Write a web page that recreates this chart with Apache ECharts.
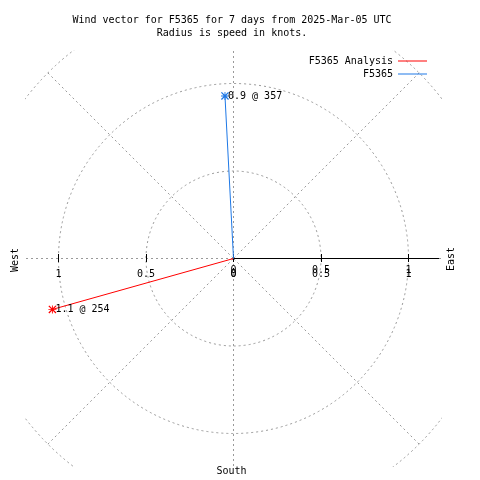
<!DOCTYPE html>
<html><head><meta charset="utf-8">
<script src="https://cdn.jsdelivr.net/npm/echarts@6/dist/echarts.min.js"></script>
<style>html,body{margin:0;padding:0;background:#fff}#c{width:480px;height:480px}</style>
</head><body><div id="c"></div>
<script>
// ---- data ----
const titleLines = ['Wind vector for F5365 for 7 days from 2025-Mar-05 UTC', 'Radius is speed in knots.'];
const seriesNames = ['F5365 Analysis', 'F5365'];
const speeds = [1.075, 0.93];          // knots (radius)
const directions = [254.3, 357.0];     // degrees clockwise from north
const radiusTicks = [0, 0.5, 1];
const compassLabels = ['West', 'East', 'South'];
const colors = ['#ff0000', '#1e78e6'];

const FONT = 'DejaVu Sans Mono';
const GRID_COLOR = '#999999';
const star = 'path://M4,0h1v9h-1zM0,4h9v1h-9zM0,1L1,0L9,8L8,9zM8,0L9,1L1,9L0,8z';

const chart = echarts.init(document.getElementById('c'), null, {renderer: 'canvas'});

const splitStyle = {show: true, lineStyle: {color: GRID_COLOR, width: 1, type: [2, 3]}};
const labelBase = {fontFamily: FONT, fontSize: 10, color: '#000'};

function eastAxis(inside, margin) {
  return {
    gridIndex: 0, type: 'value', min: 0, max: 205 / 175, position: 'bottom', z: 20,
    axisLine: {show: true, onZero: false, lineStyle: {color: '#000', width: 1}},
    axisTick: {show: true, inside: inside, length: 4, customValues: radiusTicks, lineStyle: {color: '#000'}},
    axisLabel: Object.assign({show: true, margin: margin, customValues: radiusTicks}, labelBase),
    splitLine: {show: false}
  };
}
function westAxis(inside, showLabel) {
  return {
    gridIndex: 1, type: 'value', min: 0, max: 208 / 175, inverse: true, position: 'bottom', z: 20,
    axisLine: {show: false, onZero: false},
    axisTick: {show: true, inside: inside, length: 4, customValues: radiusTicks, lineStyle: {color: '#000'}},
    axisLabel: Object.assign({show: showLabel, margin: 11, customValues: radiusTicks}, labelBase),
    splitLine: {show: false}
  };
}

const textEl = (text, x, y, rot) => ({
  type: 'text', x: x, y: y, rotation: rot || 0, z: 40, silent: true,
  style: {text: text, align: 'center', verticalAlign: 'middle', fontFamily: FONT, fontSize: 10, fill: '#000'}
});
const maskEl = (x, y, w, h) => ({
  type: 'rect', shape: {x: x, y: y, width: w, height: h}, style: {fill: '#fff'}, z: 10, silent: true
});

const option = {
  animation: false,
  backgroundColor: '#fff',
  polar: {center: [233.5, 258.5], radius: 262.5},
  angleAxis: {
    type: 'value', min: 0, max: 360, interval: 45, startAngle: 90, clockwise: true,
    axisLine: {show: false}, axisTick: {show: false}, axisLabel: {show: false},
    splitLine: splitStyle
  },
  radiusAxis: {
    type: 'value', min: 0, max: 1.5, interval: 0.5,
    axisLine: {show: false}, axisTick: {show: false}, axisLabel: {show: false},
    splitLine: splitStyle
  },
  grid: [
    {left: 233.5, width: 205, top: 0, height: 258},
    {left: 25.5, width: 208, top: 0, height: 258}
  ],
  xAxis: [eastAxis(true, 11), eastAxis(false, 7), westAxis(true, true), westAxis(false, false)],
  yAxis: [
    {gridIndex: 0, type: 'value', min: 0, max: 1, show: false},
    {gridIndex: 1, type: 'value', min: 0, max: 1, show: false}
  ],
  legend: seriesNames.map((n, i) => ({
    data: [{name: n}], right: 53, top: 56 + 13 * i, padding: 0, align: 'right',
    icon: 'rect', itemWidth: 29, itemHeight: 1, itemGap: 0, selectedMode: false, z: 40,
    textStyle: {fontFamily: FONT, fontSize: 10, color: '#000'}
  })),
  series: seriesNames.map((n, i) => ({
    name: n, type: 'line', coordinateSystem: 'polar', polarIndex: 0, z: 30,
    color: colors[i],
    lineStyle: {color: colors[i], width: 1},
    itemStyle: {color: colors[i]},
    showSymbol: true,
    data: [
      {value: [0, directions[i]], symbol: 'none'},
      {value: [speeds[i], directions[i]], symbol: star, symbolSize: 8,
       label: {show: true, position: 'right', distance: -1, fontFamily: FONT, fontSize: 10, color: '#000',
               formatter: speeds[i].toFixed(1) + ' @ ' + Math.round(directions[i])}}
    ]
  })),
  graphic: [
    maskEl(0, 0, 480, 50), maskEl(0, 467, 480, 13), maskEl(0, 0, 25, 480), maskEl(442, 0, 38, 480),
    textEl(titleLines[0], 232, 20), textEl(titleLines[1], 232, 33),
    textEl(compassLabels[0], 15.5, 260, Math.PI / 2),
    textEl(compassLabels[1], 451, 259, Math.PI / 2),
    textEl(compassLabels[2], 231.5, 471.5)
  ]
};
chart.setOption(option);
</script>
</body></html>
